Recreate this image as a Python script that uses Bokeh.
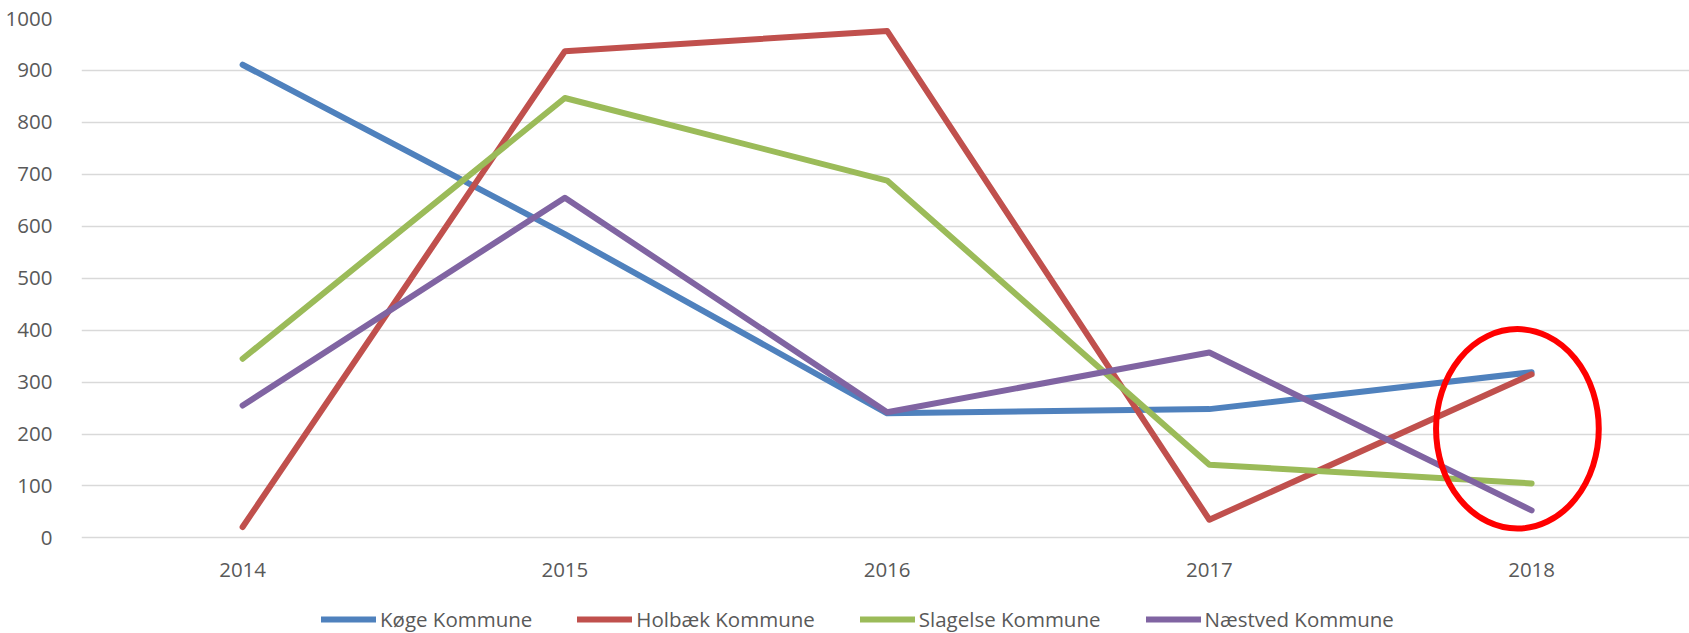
from bokeh.plotting import figure
from bokeh.models import Range1d, FixedTicker, Legend, LegendItem
from bokeh.core.properties import value
from bokeh.embed import file_html
from bokeh.resources import INLINE

years = ["2014", "2015", "2016", "2017", "2018"]
koege = [911, 585, 240, 248, 319]
holbaek = [21, 937, 976, 35, 315]
slagelse = [345, 847, 688, 141, 105]
naestved = [255, 655, 242, 357, 53]

names = ["Køge Kommune", "Holbæk Kommune", "Slagelse Kommune", "Næstved Kommune"]
series = [koege, holbaek, slagelse, naestved]
colors = ["#4F81BD", "#C0504D", "#9BBB59", "#8064A2"]

y_ticks = list(range(0, 1001, 100))

# highlight ellipse (data coordinates)
ell_x, ell_y, ell_w, ell_h = 3.956, 210, 0.505, 384

FONT = "Open Sans"
TXT = "#595959"

xs = list(range(len(years)))

# frame extends to the bottom of the canvas so the legend below the axis is not clipped
p = figure(width=1689, height=633, output_backend="svg", toolbar_location=None,
           x_range=Range1d(-0.5, 4.49), y_range=Range1d(-184, 1000),
           min_border_left=81, min_border_right=0, min_border_top=18, min_border_bottom=0)
p.outline_line_color = None
p.background_fill_color = "white"

items = []
for name, vals, c in zip(names, series, colors):
    r = p.line(xs, vals, line_color=c, line_width=6, line_cap="round", line_join="round")
    items.append(LegendItem(label=name, renderers=[r]))

p.ellipse(x=[ell_x], y=[ell_y], width=[ell_w], height=[ell_h],
          fill_color=None, line_color="#FF0000", line_width=6)

# category labels under the zero line
p.text(x=xs, y=[0] * len(xs), text=years, y_offset=32,
       text_align="center", text_baseline="middle",
       text_font=value(FONT), text_font_size="20.5px", text_color=TXT)

p.xaxis.visible = False
p.xgrid.grid_line_color = None
p.ygrid.grid_line_color = "#D9D9D9"
p.ygrid.grid_line_width = 1.5
p.yaxis.ticker = FixedTicker(ticks=y_ticks)

ax = p.yaxis[0]
ax.axis_line_color = None
ax.major_tick_line_color = None
ax.minor_tick_line_color = None
ax.major_label_text_font = FONT
ax.major_label_text_font_size = "20.5px"
ax.major_label_text_color = TXT
ax.major_label_standoff = 23

legend = Legend(items=items, orientation="horizontal", location=(240, 0),
                glyph_width=55, glyph_height=22, label_height=22, label_standoff=4,
                spacing=45, padding=0, margin=0, border_line_color=None,
                background_fill_alpha=0, label_text_font=FONT,
                label_text_font_size="20.5px", label_text_color=TXT)
p.add_layout(legend, "center")

open("out.html", "w").write(file_html(p, INLINE))
